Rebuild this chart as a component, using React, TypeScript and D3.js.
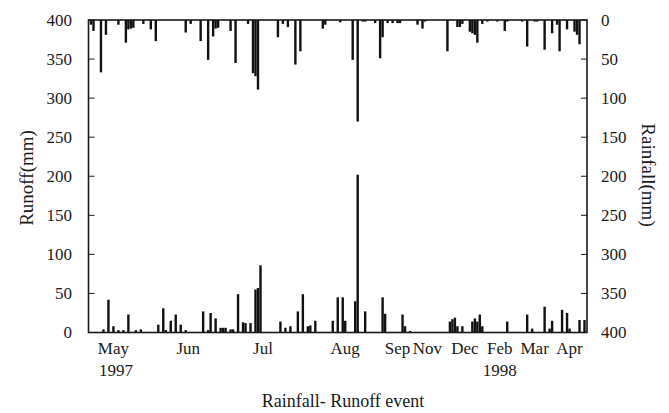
import React from "react";
import { scaleLinear, range } from "d3";

// event number (x) and value for each rainfall bar (hangs from top)
const rainEvent = [1,2,5,7,12,15,16,17,18,22,25,27,39,41,45,48,50,51,52,57,59,64,66,67,68,76,78,80,83,85,94,95,101,106,108,110,111,115,117,118,120,122,124,125,132,134,135,144,148,149,150,153,154,155,156,158,160,164,167,168,174,176,179,180,183,186,188,189,192,195,196,197];
const rainMm = [6,14,67,19,6,29,12,11,10,5,12,27,16,5,27,51,21,11,10,14,55,5,68,72,89,22,5,9,57,40,11,6,3,51,130,2,2,4,49,22,4,4,4,4,6,11,2,40,9,9,5,15,17,19,29,5,2,2,14,2,2,34,2,2,38,17,6,40,12,15,19,31];

// event number and value for each runoff bar (rises from bottom)
const runoffEvent = [6,8,10,12,14,16,19,21,28,30,31,33,35,37,39,46,48,49,51,53,54,55,57,58,60,62,63,65,67,68,69,77,79,81,84,86,88,89,91,98,100,102,103,107,108,111,118,119,126,127,129,145,146,147,148,150,154,155,156,157,158,168,176,178,183,185,186,190,192,193,197,199];
const runoffMm = [4,42,8,3,3,23,3,4,10,31,3,15,23,10,3,27,3,25,18,6,6,6,4,4,49,13,12,12,55,57,86,14,6,8,27,49,8,9,15,15,45,45,15,40,202,27,45,24,23,8,2,14,17,19,8,8,14,18,14,23,8,14,23,5,33,5,15,29,25,5,16,16];

const monthLabels = ["May","Jun","Jul","Aug","Sep","Nov","Dec","Feb","Mar","Apr"];
const monthEvent = [10,40,70,103,124,136,151,165,179,193];
const yearLabels = ["1997","1998"];
const yearEvent = [11,165];
const yTicks = range(0, 401, 50);

const W = 669, H = 413;
const left = 88.5, right = 587, top = 20, bottom = 332.5;
const font = "Liberation Serif, DejaVu Serif, serif";
const ink = "#1a1a1a";
const txt = { fontFamily: font };

const App = () => {
  const x = scaleLinear().domain([0, 200]).range([left, right]);
  const yRun = scaleLinear().domain([0, 400]).range([bottom, top]);
  const yRain = scaleLinear().domain([0, 400]).range([top, bottom]);
  const bw = 2.4;

  const rainBars = rainEvent.map((e, i) => (
    <rect key={"r" + i} x={x(e) - bw / 2} y={top} width={bw}
      height={yRain(rainMm[i]) - top} fill="#111" />
  ));
  const runoffBars = runoffEvent.map((e, i) => (
    <rect key={"o" + i} x={x(e) - bw / 2} y={yRun(runoffMm[i])} width={bw}
      height={bottom - yRun(runoffMm[i])} fill="#111" />
  ));

  const leftTicks = yTicks.map((t) => (
    <g key={"lt" + t}>
      <line x1={left} x2={left + 6} y1={yRun(t)} y2={yRun(t)} stroke={ink} strokeWidth={1} />
      <text style={txt} x={72} y={yRun(t)} dy="0.35em" textAnchor="end" fontSize={17} fill={ink}>{t}</text>
    </g>
  ));
  const rightTicks = yTicks.map((t) => (
    <g key={"rt" + t}>
      <line x1={right - 6} x2={right} y1={yRain(t)} y2={yRain(t)} stroke={ink} strokeWidth={1} />
      <text style={txt} x={601} y={yRain(t)} dy="0.35em" textAnchor="start" fontSize={17} fill={ink}>{t}</text>
    </g>
  ));

  return (
    <svg width={W} height={H} viewBox={`0 0 ${W} ${H}`}
      style={{ position: "absolute", left: 0, top: 0, background: "#fff" }}>
      <rect width={W} height={H} fill="#fff" />
      {rainBars}
      {runoffBars}
      <rect x={left} y={top} width={right - left} height={bottom - top}
        fill="none" stroke={ink} strokeWidth={1.6} />
      {leftTicks}
      {rightTicks}
      {monthLabels.map((m, i) => (
        <text key={m} style={txt} x={x(monthEvent[i])} y={354} textAnchor="middle" fontSize={17} fill={ink}>{m}</text>
      ))}
      {yearLabels.map((yv, i) => (
        <text key={yv} style={txt} x={x(yearEvent[i])} y={376} textAnchor="middle" fontSize={17} fill={ink}>{yv}</text>
      ))}
      <text style={txt} x={343} y={407} textAnchor="middle" fontSize={18} fill={ink}>Rainfall- Runoff event</text>
      <text style={txt} transform="translate(33,178) rotate(-90)" textAnchor="middle" fontSize={19} fill={ink}>Runoff(mm)</text>
      <text style={txt} transform="translate(642,175) rotate(90)" textAnchor="middle" fontSize={19} fill={ink}>Rainfall(mm)</text>
    </svg>
  );
};

export default App;
